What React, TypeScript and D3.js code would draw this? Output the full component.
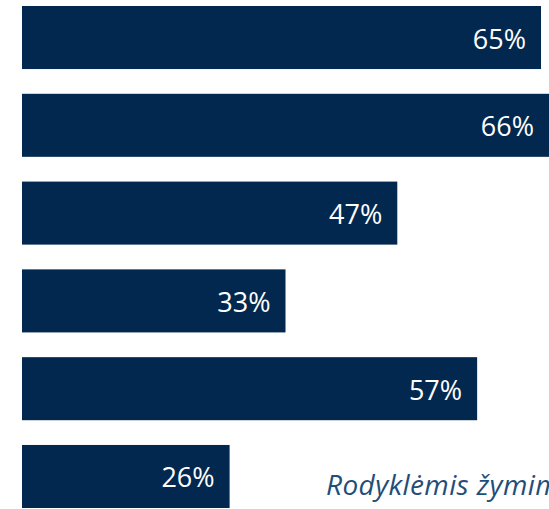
import React from 'react';
import * as d3 from 'd3';

// chart data
const categories = ['A', 'B', 'C', 'D', 'E', 'F'];
const values = [65, 66, 47, 33, 57, 26];
const note = 'Rodyklėmis žymimi';

const width = 549;
const height = 509;

export default function App() {
  const x = d3.scaleLinear().domain([0, 66]).range([22, 549]);
  const y = d3.scaleBand().domain(categories).range([6, 508]).paddingInner(0.282).paddingOuter(0);

  return (
    <svg
      width={width}
      height={height}
      style={{position: 'absolute', left: 0, top: 0, display: 'block', background: '#fff'}}
      fontFamily="'Open Sans', 'DejaVu Sans', sans-serif"
    >
      {categories.map((c, i) => (
        <g key={c}>
          <rect
            x={x(0)}
            y={y(c)}
            width={x(values[i]) - x(0)}
            height={y.bandwidth()}
            fill="#03284f"
          />
          <text
            x={x(values[i]) - 15}
            y={(y(c) as number) + y.bandwidth() / 2 + 11}
            textAnchor="end"
            fontSize={27}
            fill="#fff"
          >
            {values[i]}%
          </text>
        </g>
      ))}
      {/* note runs past the right edge, as in the reference */}
      <text x={326} y={495} fontSize={28} fontStyle="italic" letterSpacing={0.4} fill="#1f4e79">
        {note}
      </text>
    </svg>
  );
}
